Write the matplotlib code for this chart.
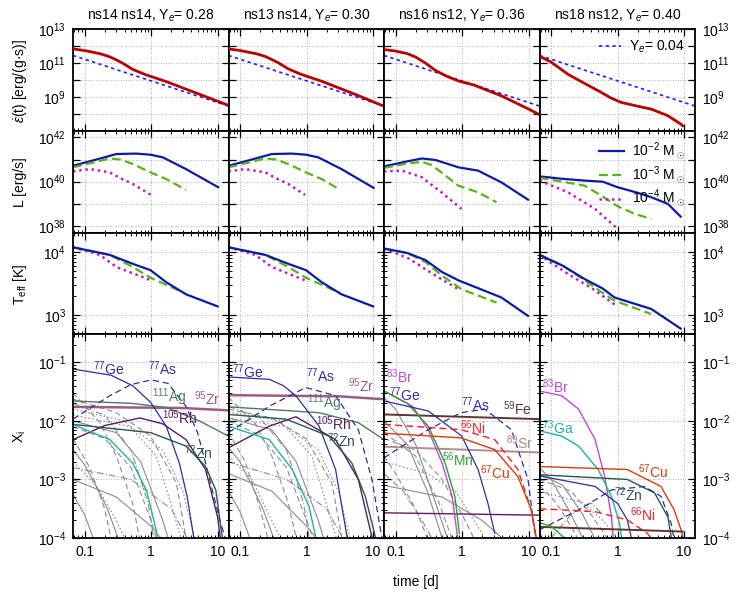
import numpy as np
import matplotlib
matplotlib.use("Agg")
import matplotlib.pyplot as plt
from matplotlib.ticker import FixedLocator, FuncFormatter, NullFormatter, NullLocator

plt.rcParams['font.family'] = ['Liberation Sans', 'DejaVu Sans']
plt.rcParams['mathtext.fontset'] = 'custom'
plt.rcParams['mathtext.rm'] = 'Liberation Sans'
plt.rcParams['mathtext.it'] = 'Liberation Sans:italic'
plt.rcParams['mathtext.bf'] = 'Liberation Sans:bold'
plt.rcParams['font.size'] = 10

# --- data (time in days, values as log10) ---
titles = ["ns14 ns14, Y$_e$= 0.28", "ns13 ns14, Y$_e$= 0.30",
          "ns16 ns12, Y$_e$= 0.36", "ns18 ns12, Y$_e$= 0.40"]

heat_t = [[0.067, 0.1, 0.135, 0.18, 0.24, 0.3, 0.38, 0.53, 0.8, 1.69, 5.3, 14.6],
          [0.067, 0.1, 0.135, 0.18, 0.24, 0.3, 0.38, 0.53, 0.8, 1.69, 5.3, 14.6],
          [0.067, 0.1, 0.15, 0.2, 0.28, 0.4, 0.6, 0.88, 1.5, 3.9, 9.8, 14.6],
          [0.067, 0.1, 0.18, 0.3, 0.57, 0.8, 1.14, 2.0, 3.2, 5.7, 8.9, 9.5]]
heat_log = [[11.83, 11.73, 11.63, 11.52, 11.36, 11.18, 10.97, 10.62, 10.33, 9.9, 9.16, 8.5],
            [11.83, 11.73, 11.63, 11.53, 11.38, 11.2, 11.0, 10.65, 10.35, 9.92, 9.16, 8.45],
            [11.79, 11.7, 11.55, 11.35, 11.0, 10.55, 10.2, 9.94, 9.7, 9.06, 8.3, 7.95],
            [11.40, 11.05, 10.33, 9.85, 9.26, 8.93, 8.67, 8.45, 8.28, 7.89, 7.40, 7.3]]
ye04_t = [0.067, 14.6]
ye04_log = [11.44, 8.46]

# luminosity for 1e-2, 1e-3, 1e-4 Msun
lum2_t = [[0.067, 0.15, 0.30, 0.6, 0.98, 1.5, 3.35, 10.2],
          [0.067, 0.15, 0.30, 0.6, 0.98, 1.5, 3.35, 10.2],
          [0.067, 0.15, 0.25, 0.4, 0.88, 1.74, 3.9, 9.8],
          [0.067, 0.15, 0.32, 0.6, 1.0, 2.0, 3.2, 5.7, 8.9]]
lum2 = [[40.72, 41.0, 41.25, 41.27, 41.22, 41.10, 40.57, 39.75],
        [40.72, 41.0, 41.25, 41.27, 41.22, 41.10, 40.57, 39.72],
        [40.69, 40.92, 41.05, 40.98, 40.65, 40.50, 39.97, 39.19],
        [40.24, 40.13, 40.05, 40.0, 39.75, 39.5, 39.30, 39.0, 38.42]]
lum3_t = [[0.067, 0.15, 0.24, 0.35, 0.53, 0.98, 1.69, 3.35],
          [0.067, 0.15, 0.24, 0.35, 0.53, 0.98, 1.69, 3.2],
          [0.067, 0.15, 0.25, 0.35, 0.49, 0.88, 1.74, 3.3],
          [0.067, 0.15, 0.32, 0.57, 1.0, 1.8, 3.2]]
lum3 = [[40.65, 40.9, 41.05, 41.0, 40.80, 40.42, 40.12, 39.63],
        [40.65, 40.9, 41.05, 41.0, 40.80, 40.42, 40.12, 39.63],
        [40.62, 40.82, 40.90, 40.75, 40.42, 39.82, 39.52, 39.07],
        [40.17, 40.0, 39.82, 39.37, 38.89, 38.55, 38.32]]
lum4_t = [[0.067, 0.12, 0.24, 0.35, 0.53, 1.0],
          [0.067, 0.12, 0.24, 0.35, 0.53, 0.95],
          [0.067, 0.125, 0.25, 0.35, 0.49, 0.98],
          [0.067, 0.18, 0.46, 1.0]]
lum4 = [[40.47, 40.57, 40.42, 40.15, 39.9, 39.40],
        [40.47, 40.57, 40.42, 40.15, 39.9, 39.40],
        [40.47, 40.50, 40.20, 39.85, 39.52, 38.77],
        [40.05, 39.52, 38.77, 37.87]]

# effective temperature for 1e-2, 1e-3, 1e-4 Msun
teff2_t = [[0.067, 0.24, 0.53, 0.98, 1.69, 3.35, 10],
           [0.067, 0.24, 0.53, 0.98, 1.69, 3.35, 10],
           [0.067, 0.15, 0.28, 0.5, 0.88, 3.9, 9.8],
           [0.067, 0.15, 0.32, 0.6, 0.9, 3.2, 8.9]]
teff2 = [[4.07, 3.95, 3.81, 3.71, 3.52, 3.33, 3.14],
         [4.07, 3.95, 3.81, 3.71, 3.52, 3.33, 3.14],
         [4.05, 3.98, 3.87, 3.68, 3.55, 3.28, 2.99],
         [3.95, 3.78, 3.57, 3.42, 3.28, 3.10, 2.79]]
teff3_t = [[0.067, 0.24, 0.53, 0.98, 3.2],
           [0.067, 0.24, 0.53, 0.98, 3.2],
           [0.067, 0.15, 0.28, 0.49, 0.98, 3.3],
           [0.067, 0.15, 0.32, 0.6, 0.9, 3.2]]
teff3 = [[4.07, 3.95, 3.76, 3.59, 3.35],
         [4.07, 3.95, 3.76, 3.59, 3.35],
         [4.05, 3.98, 3.84, 3.63, 3.41, 3.20],
         [3.95, 3.78, 3.55, 3.35, 3.23, 3.02]]
teff4_t = [[0.067, 0.17, 0.30, 1.0],
           [0.067, 0.17, 0.30, 0.95],
           [0.067, 0.16, 0.39, 0.88],
           [0.067, 0.18, 0.46, 0.96]]
teff4 = [[4.07, 3.95, 3.76, 3.55],
         [4.07, 3.95, 3.76, 3.55],
         [4.05, 3.89, 3.63, 3.41],
         [3.95, 3.65, 3.39, 3.15]]

# mass fractions of selected isotopes, per column
abund = [
    {"95Zr": ([0.067, 3.0, 14.6], [-1.76, -1.78, -1.82]),
     "111Ag": ([0.067, 0.5, 1.69, 5.3, 14.6], [-1.66, -1.70, -1.77, -2.0, -2.26]),
     "77Ge": ([0.067, 0.25, 0.53, 0.98, 1.69, 2.66, 3.5, 4.4], [-1.115, -1.22, -1.40, -1.68, -2.09, -2.72, -3.3, -4.0]),
     "77As": ([0.067, 0.24, 0.5, 1.0, 1.8, 3.35, 5.0, 6.6, 10.5, 13.0], [-1.97, -1.57, -1.38, -1.30, -1.36, -1.75, -2.2, -2.72, -3.64, -4.0]),
     "105Rh": ([0.067, 0.2, 0.68, 1.5, 3.35, 6.6, 10.0, 11.0], [-2.32, -2.08, -1.95, -2.05, -2.32, -2.83, -3.64, -4.0]),
     "72Zn": ([0.067, 0.98, 3.35, 6.6, 9.4, 11.8], [-2.06, -2.20, -2.43, -2.78, -3.18, -4.0]),
     "73Ga": ([0.067, 0.24, 0.53, 0.85, 1.19, 1.25], [-2.06, -2.32, -2.72, -3.18, -3.86, -4.0])},
    {"95Zr": ([0.067, 3.0, 14.6], [-1.56, -1.58, -1.63]),
     "111Ag": ([0.067, 1.54, 6.0, 14.6], [-1.76, -1.86, -2.03, -2.32]),
     "77Ge": ([0.067, 0.275, 0.45, 0.69, 1.54, 2.73, 4.06], [-1.25, -1.29, -1.40, -1.57, -2.09, -2.83, -3.98]),
     "77As": ([0.067, 0.275, 0.97, 2.73, 6.0, 9.6, 13.5], [-2.20, -1.75, -1.43, -1.57, -2.15, -3.0, -3.98]),
     "105Rh": ([0.067, 0.275, 0.69, 2.73, 6.0, 9.6], [-2.46, -2.09, -1.93, -2.32, -3.0, -3.98]),
     "72Zn": ([0.067, 0.49, 2.17, 4.8, 7.65, 10.8], [-1.89, -1.97, -2.26, -2.72, -3.29, -3.98]),
     "73Ga": ([0.067, 0.275, 0.61, 1.09, 1.37], [-2.09, -2.32, -2.83, -3.46, -3.98])},
    {"59Fe": ([0.067, 14.6], [-1.89, -1.97]),
     "89Sr": ([0.067, 14.6], [-2.44, -2.54]),
     "105Rh": ([0.067, 14.6], [-3.57, -3.61]),
     "83Br": ([0.067, 0.18, 0.31, 0.5, 0.71, 0.84, 0.86], [-1.49, -1.75, -2.15, -2.72, -3.29, -3.92, -4.0]),
     "56Mn": ([0.067, 0.15, 0.31, 0.556, 0.78, 0.91], [-1.49, -1.7, -2.09, -2.72, -3.29, -3.92]),
     "77Ge": ([0.067, 0.31, 0.99, 1.74, 2.45, 3.1], [-1.66, -1.83, -2.26, -2.83, -3.41, -3.92]),
     "77As": ([0.067, 0.31, 0.96, 2.2, 5.5, 9.8, 12.3, 13.0], [-2.63, -2.15, -1.86, -1.80, -2.15, -3.0, -3.86, -4.0]),
     "66Ni": ([0.067, 0.96, 3.1, 6.9, 11.0, 12.5], [-2.06, -2.15, -2.32, -2.83, -3.52, -3.92]),
     "67Cu": ([0.067, 0.96, 3.1, 6.9, 11.0, 13.0], [-2.21, -2.29, -2.49, -2.95, -3.52, -3.98])},
    {"83Br": ([0.067, 0.145, 0.26, 0.46, 0.64, 0.81, 0.86], [-1.49, -1.57, -1.80, -2.32, -2.95, -3.64, -4.0]),
     "73Ga": ([0.067, 0.145, 0.26, 0.51, 0.81, 1.07, 1.15], [-2.17, -2.26, -2.43, -2.83, -3.29, -3.75, -4.0]),
     "67Cu": ([0.067, 1.4, 4.5, 7.1, 9.2, 9.6], [-2.78, -2.83, -3.12, -3.52, -3.89, -4.0]),
     "72Zn": ([0.067, 1.4, 3.6, 5.7, 6.4], [-2.92, -3.0, -3.23, -3.64, -3.98]),
     "77Ge": ([0.067, 0.46, 1.0, 1.4, 1.6], [-2.94, -3.12, -3.41, -3.69, -3.98]),
     "77As": ([0.067, 0.26, 0.81, 2.55, 4.5, 6.4, 7.0], [-3.86, -3.52, -3.18, -3.12, -3.29, -3.75, -4.0]),
     "66Ni": ([0.067, 0.46, 1.4, 2.8, 3.2], [-3.50, -3.55, -3.69, -3.92, -4.0]),
     "59Fe": ([0.067, 9.5], [-3.81, -3.89]),
     "56Mn": ([0.067, 0.1, 0.16], [-3.74, -3.80, -4.0])},
]

# the many unlabelled isotopes (grey)
grey = [
    [([0.067, 0.1, 0.15, 0.22, 0.32], [-2.49, -2.75, -3.12, -3.5, -4.0]),
     ([0.067, 0.1, 0.135], [-3.26, -3.6, -4.0]),
     ([0.067, 0.17, 0.3, 0.53, 0.67], [-1.52, -2.03, -2.60, -3.41, -4.0]),
     ([0.067, 0.3, 0.98, 2.4, 3.35], [-1.63, -1.86, -2.26, -3.06, -4.0]),
     ([0.067, 0.5, 1.5, 3.0, 4.5], [-1.9, -2.1, -2.5, -3.2, -4.0]),
     ([0.067, 0.2, 0.5, 0.9, 1.1], [-1.7, -1.9, -2.5, -3.4, -4.0]),
     ([0.067, 0.2, 0.5, 1.0, 1.2], [-2.1, -2.3, -2.8, -3.7, -4.0]),
     ([0.067, 0.3, 0.7, 1.5, 1.8], [-2.0, -2.2, -2.7, -3.7, -4.0]),
     ([0.067, 0.15, 0.3, 0.4], [-2.7, -3.1, -3.7, -4.0]),
     ([0.067, 0.5, 2.0, 3.5], [-2.8, -3.0, -3.5, -4.0]),
     ([0.067, 0.12, 0.2, 0.25], [-2.3, -2.8, -3.5, -4.0]),
     ([0.067, 0.4, 1.2, 2.1, 2.8], [-1.8, -2.0, -2.6, -3.5, -4.0]),
     ([0.067, 0.3, 1.0, 1.4], [-3.0, -3.3, -3.8, -4.0])],
    [([0.067, 0.1, 0.15, 0.22, 0.32], [-2.45, -2.7, -3.1, -3.5, -4.0]),
     ([0.067, 0.1, 0.14], [-3.2, -3.55, -4.0]),
     ([0.067, 0.17, 0.3, 0.53, 0.7], [-1.6, -2.05, -2.6, -3.4, -4.0]),
     ([0.067, 0.3, 0.98, 2.4, 3.4], [-1.8, -1.95, -2.3, -3.06, -4.0]),
     ([0.067, 0.5, 1.5, 3.0, 4.5], [-1.95, -2.1, -2.5, -3.2, -4.0]),
     ([0.067, 0.2, 0.5, 0.9, 1.1], [-1.75, -1.95, -2.5, -3.4, -4.0]),
     ([0.067, 0.2, 0.5, 1.0, 1.25], [-2.0, -2.25, -2.8, -3.7, -4.0]),
     ([0.067, 0.3, 0.7, 1.5, 1.8], [-1.95, -2.15, -2.7, -3.7, -4.0]),
     ([0.067, 0.15, 0.3, 0.4], [-2.6, -3.0, -3.7, -4.0]),
     ([0.067, 0.5, 2.0, 3.5], [-2.7, -3.0, -3.5, -4.0]),
     ([0.067, 0.12, 0.2, 0.26], [-2.2, -2.7, -3.5, -4.0]),
     ([0.067, 0.4, 1.2, 2.1, 2.8], [-1.85, -2.0, -2.6, -3.5, -4.0]),
     ([0.067, 0.3, 1.0, 1.4], [-2.9, -3.2, -3.8, -4.0])],
    [([0.067, 0.1, 0.2, 0.4, 0.6], [-1.6, -1.8, -2.4, -3.4, -4.0]),
     ([0.067, 0.15, 0.3, 0.5], [-2.0, -2.4, -3.2, -4.0]),
     ([0.067, 0.2, 0.5, 1.0, 1.5], [-2.3, -2.5, -3.0, -3.6, -4.0]),
     ([0.067, 0.1, 0.2, 0.3], [-2.6, -2.9, -3.5, -4.0]),
     ([0.067, 0.3, 0.8, 1.5, 2.2], [-2.7, -2.9, -3.2, -3.7, -4.0]),
     ([0.067, 0.13, 0.25, 0.35], [-2.9, -3.2, -3.7, -4.0]),
     ([0.067, 0.2, 0.45, 0.7], [-2.2, -2.6, -3.4, -4.0]),
     ([0.067, 0.5, 2.0, 4.0], [-3.1, -3.3, -3.7, -4.0])],
    [([0.067, 0.1, 0.18, 0.3], [-2.8, -3.0, -3.5, -4.0]),
     ([0.067, 0.15, 0.3, 0.45], [-2.9, -3.1, -3.6, -4.0]),
     ([0.067, 0.2, 0.4, 0.7], [-3.0, -3.2, -3.6, -4.0]),
     ([0.067, 0.12, 0.2, 0.25], [-3.1, -3.4, -3.8, -4.0]),
     ([0.067, 0.3, 0.6, 1.0], [-3.2, -3.4, -3.7, -4.0]),
     ([0.1, 0.2, 0.4, 0.6], [-4.0, -3.6, -3.4, -3.6])],
]

# label anchors (left edge, vertical centre) per column
iso_labels = [
    {"77Ge": (0.135, 0.077), "77As": (0.895, 0.077), "111Ag": (1.05, 0.025),
     "95Zr": (4.4, 0.024), "105Rh": (1.47, 0.0112), "72Zn": (3.16, 0.00285)},
    {"77Ge": (0.0765, 0.069), "77As": (0.99, 0.059), "95Zr": (4.2, 0.0398),
     "111Ag": (1.03, 0.020), "105Rh": (1.37, 0.0090), "72Zn": (2.04, 0.0046)},
    {"83Br": (0.072, 0.056), "77Ge": (0.079, 0.028), "77As": (0.96, 0.0192),
     "59Fe": (4.12, 0.0163), "66Ni": (0.93, 0.00764), "89Sr": (4.6, 0.0042),
     "56Mn": (0.494, 0.0022), "67Cu": (1.85, 0.0013)},
    {"83Br": (0.073, 0.0387), "73Ga": (0.073, 0.0076), "67Cu": (2.02, 0.00137),
     "72Zn": (0.887, 5.45e-4), "66Ni": (1.52, 2.48e-4)},
]

# --- styles ---
iso_style = {
    "77Ge": dict(color="#2e2e9c", ls="-", lw=0.9),
    "77As": dict(color="#2e2e9c", ls=(0, (5, 3)), lw=0.9),
    "95Zr": dict(color="#9c5c86", ls="-", lw=1.8),
    "111Ag": dict(color="#4f7a66", ls="-", lw=1.0),
    "105Rh": dict(color="#5c1c5e", ls="-", lw=1.0),
    "72Zn": dict(color="#27574e", ls="-", lw=1.0),
    "73Ga": dict(color="#1fb59a", ls="-", lw=1.0),
    "83Br": dict(color="#c248d6", ls="-", lw=1.0),
    "56Mn": dict(color="#2ea02e", ls="-", lw=1.0),
    "59Fe": dict(color="#5a3832", ls="-", lw=1.4),
    "66Ni": dict(color="#ff1e1e", ls=(0, (5, 3)), lw=1.0),
    "67Cu": dict(color="#d43f0f", ls="-", lw=1.0),
    "89Sr": dict(color="#b08c8c", ls="-", lw=1.4),
}
grey_ls = ["-", "-", (0, (5, 3)), (0, (5, 3)), (0, (1.5, 2)), (0, (6, 2, 1, 2)),
           (0, (5, 3)), "-", (0, (1.5, 2)), (0, (6, 2, 1, 2)), (0, (5, 3)), (0, (1.5, 2)), "-"]

XLIM = (0.067, 14.6)
ylims = [(1e7, 1e13), (10**37.7, 10**42.3), (500, 2e4), (1e-4, 0.3)]
ymaj = [range(7, 14), range(38, 43), range(3, 5), range(-4, 0)]
ylab_show = [{9, 11, 13}, {38, 40, 42}, {3, 4}, {-4, -3, -2, -1}]
ylabels = ["$\\dot{\\varepsilon}$(t) [erg/(g\u00b7s)]", "L [erg/s]", "T$_{\\rm eff}$ [K]", "X$_{\\rm i}$"]

fig = plt.figure(figsize=(7.47, 5.98), dpi=100)
gs = fig.add_gridspec(4, 4, left=73/747, right=695/747, top=1-29/598, bottom=1-538/598,
                      height_ratios=[1, 1, 1, 2], hspace=0, wspace=0)
axs = [[fig.add_subplot(gs[r, c]) for c in range(4)] for r in range(4)]


def exp_fmt(show):
    def f(v, pos):
        e = int(round(np.log10(v)))
        return "10$^{%d}$" % e if e in show else ""
    return f


minor_x = [m * 10.0**d for d in (-2, -1, 0, 1) for m in range(2, 10)]

for r in range(4):
    for c in range(4):
        ax = axs[r][c]
        ax.set_xscale("log")
        ax.set_yscale("log")
        ax.set_xlim(*XLIM)
        ax.set_ylim(*ylims[r])
        ax.xaxis.set_major_locator(FixedLocator([0.1, 1, 10]))
        ax.xaxis.set_minor_locator(FixedLocator(minor_x))
        ax.xaxis.set_minor_formatter(NullFormatter())
        ax.yaxis.set_major_locator(FixedLocator([10.0**e for e in ymaj[r]]))
        if r >= 2:
            lo, hi = np.log10(ylims[r][0]), np.log10(ylims[r][1])
            ax.yaxis.set_minor_locator(FixedLocator([m * 10.0**d for d in range(int(np.floor(lo)), int(np.ceil(hi)))
                                                     for m in range(2, 10)]))
        else:
            ax.yaxis.set_minor_locator(NullLocator())
        ax.yaxis.set_minor_formatter(NullFormatter())
        ax.yaxis.set_major_formatter(FuncFormatter(exp_fmt(ylab_show[r])))
        if r == 3:
            ax.xaxis.set_major_formatter(FuncFormatter(lambda v, p: {0.1: "0.1", 1: "1", 10: "10"}.get(round(v, 1), "")))
        ax.tick_params(which="both", direction="in", top=True, right=True,
                       labelbottom=(r == 3), labelleft=(c == 0), labelright=(c == 3),
                       labelsize=10, pad=5)
        ax.tick_params(which="major", length=5, width=0.9)
        ax.tick_params(which="minor", length=2.5, width=0.7)
        ax.grid(True, which="major", color="#9a9a9a", ls=(0, (1, 2)), lw=0.6)
        for s in ax.spines.values():
            s.set_linewidth(1.3)

    fig.text(20/747, 1 - [80.5, 182.5, 284, 436.5][r]/598, ylabels[r], rotation=90,
             ha="center", va="center", fontsize=10)

for c in range(4):
    axs[0][c].set_title(titles[c], fontsize=10, pad=7)

    # heating rate
    ax = axs[0][c]
    ax.plot(heat_t[c], 10**np.array(heat_log[c]), color="#b80000", lw=2.0, zorder=3)
    ax.plot(ye04_t, 10**np.array(ye04_log), color="#1f1fff", lw=1.2, ls=(0, (2, 2)),
            label="Y$_e$= 0.04", zorder=2)

    # luminosity
    ax = axs[1][c]
    ax.plot(lum2_t[c], 10**np.array(lum2[c]), color="#0d1aa5", lw=1.6, label="10$^{-2}$ M$_\\odot$")
    ax.plot(lum3_t[c], 10**np.array(lum3[c]), color="#5ab414", lw=1.6, ls=(0, (4, 2)),
            label="10$^{-3}$ M$_\\odot$")
    ax.plot(lum4_t[c], 10**np.array(lum4[c]), color="#c41cc4", lw=1.8, ls=(0, (1, 1.5)),
            label="10$^{-4}$ M$_\\odot$")

    # effective temperature
    ax = axs[2][c]
    ax.plot(teff4_t[c], 10**np.array(teff4[c]), color="#c41cc4", lw=1.8, ls=(0, (1, 1.5)))
    ax.plot(teff3_t[c], 10**np.array(teff3[c]), color="#5ab414", lw=1.6, ls=(0, (4, 2)))
    ax.plot(teff2_t[c], 10**np.array(teff2[c]), color="#0d1aa5", lw=1.6)

    # mass fractions
    ax = axs[3][c]
    for i, (t, lx) in enumerate(grey[c]):
        ax.plot(t, 10**np.array(lx), color="#8c8c8c", lw=0.8, ls=grey_ls[i % len(grey_ls)], zorder=1)
    for name, (t, lx) in abund[c].items():
        ax.plot(t, 10**np.array(lx), zorder=2, **iso_style[name])
    for name, (tx, yx) in iso_labels[c].items():
        mass = "".join(ch for ch in name if ch.isdigit())
        el = "".join(ch for ch in name if ch.isalpha())
        ax.text(tx, yx, "$^{%s}$%s" % (mass, el), color=iso_style[name]["color"],
                ha="left", va="center", fontsize=10, zorder=4)

axs[0][3].legend(loc="upper right", frameon=False, fontsize=10, handlelength=1.6,
                 borderaxespad=0.3, handletextpad=0.6)
axs[1][3].legend(loc="upper right", frameon=False, fontsize=10, handlelength=1.8,
                 borderaxespad=0.3, handletextpad=0.6, labelspacing=0.15)

fig.text(416/747, 1 - 582/598, "time [d]", ha="center", va="center", fontsize=10)

fig.savefig("out.png", dpi=100)
